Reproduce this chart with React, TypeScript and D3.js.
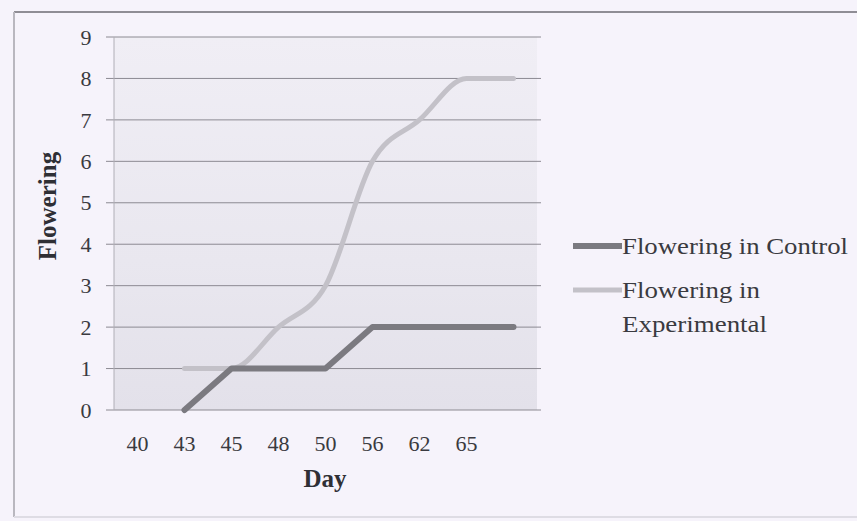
import React from "react";
import * as d3 from "d3";

const categories = ["40", "43", "45", "48", "50", "56", "62", "65", ""];
const control: (number | null)[] = [null, 0, 1, 1, 1, 2, 2, 2, 2];
const experimental: (number | null)[] = [null, 1, 1, 2, 3, 6, 7, 8, 8];
const yTicks = [0, 1, 2, 3, 4, 5, 6, 7, 8, 9];
const seriesNames = ["Flowering in Control", "Flowering in Experimental"];

const W = 857;
const H = 521;
const plot = { left: 114, right: 537, top: 37, bottom: 410 };

export default function App() {
  const x = d3
    .scaleBand<string>()
    .domain(categories.map((c, i) => String(i)))
    .range([plot.left, plot.right]);
  const xc = (i: number) => (x(String(i)) as number) + x.bandwidth() / 2;
  const y = d3.scaleLinear().domain([0, 9]).range([plot.bottom, plot.top]);

  const lineLin = d3
    .line<number | null>()
    .defined((d) => d !== null)
    .x((_, i) => xc(i))
    .y((d) => y(d as number));
  const lineSmooth = d3
    .line<number | null>()
    .defined((d) => d !== null)
    .x((_, i) => xc(i))
    .y((d) => y(d as number))
    .curve(d3.curveMonotoneX);

  const font = "'Liberation Serif', 'Times New Roman', serif";
  const textCol = "#3a3a40";

  return (
    <svg width={W} height={H} style={{ position: "absolute", left: 0, top: 0 }}>
      <defs>
        <linearGradient id="pg" x1="0" y1="0" x2="0" y2="1">
          <stop offset="0" stopColor="#f0eef5" />
          <stop offset="0.6" stopColor="#e9e7ef" />
          <stop offset="1" stopColor="#e3e1ea" />
        </linearGradient>
      </defs>
      <rect x={0} y={0} width={W} height={H} fill="#f6f3fb" />
      {/* outer frame */}
      <line x1={14} y1={12} x2={W} y2={12} stroke="#8f8d95" strokeWidth={2} />
      <line x1={14} y1={12} x2={14} y2={517} stroke="#b9b7bf" strokeWidth={2} />
      <line x1={14} y1={517} x2={W} y2={517} stroke="#dedce4" strokeWidth={2} />
      {/* plot area */}
      <rect
        x={plot.left}
        y={plot.top}
        width={plot.right - plot.left}
        height={plot.bottom - plot.top}
        fill="url(#pg)"
      />
      {yTicks.map((t) => (
        <line
          key={t}
          x1={plot.left - 8}
          x2={plot.right + 4}
          y1={y(t)}
          y2={y(t)}
          stroke="#8c8a92"
          strokeWidth={1}
        />
      ))}
      <line x1={plot.left} x2={plot.left} y1={plot.top} y2={plot.bottom} stroke="#b0aeb6" strokeWidth={1} />
      {yTicks.map((t) => (
        <text
          key={t}
          x={86}
          y={y(t)}
          dy="0.35em"
          textAnchor="middle"
          fontFamily={font}
          fontSize={22}
          fill={textCol}
        >
          {t}
        </text>
      ))}
      {categories.map((c, i) => (
        <text
          key={i}
          x={xc(i)}
          y={443}
          dy="0.35em"
          textAnchor="middle"
          fontFamily={font}
          fontSize={22}
          fill={textCol}
        >
          {c}
        </text>
      ))}
      <text
        x={325}
        y={478}
        dy="0.35em"
        textAnchor="middle"
        fontFamily={font}
        fontSize={25}
        fontWeight="bold"
        fill="#2f2f35"
      >
        Day
      </text>
      <text
        transform={`translate(47,206) rotate(-90)`}
        dy="0.35em"
        textAnchor="middle"
        fontFamily={font}
        fontSize={25}
        fontWeight="bold"
        fill="#2f2f35"
      >
        Flowering
      </text>
      <path
        d={lineSmooth(experimental) || ""}
        fill="none"
        stroke="#c3c1c8"
        strokeWidth={5}
        strokeLinecap="round"
      />
      <path
        d={lineLin(control) || ""}
        fill="none"
        stroke="#7b7a80"
        strokeWidth={6}
        strokeLinejoin="round"
        strokeLinecap="round"
      />
      {/* legend */}
      <line x1={573} x2={622} y1={246} y2={246} stroke="#7b7a80" strokeWidth={6} />
      <text
        x={622}
        y={246}
        dy="0.35em"
        fontFamily={font}
        fontSize={24}
        fill={textCol}
        textLength={226}
        lengthAdjust="spacingAndGlyphs"
      >
        {seriesNames[0]}
      </text>
      <line x1={573} x2={622} y1={290} y2={290} stroke="#c3c1c8" strokeWidth={5} />
      <text
        x={622}
        y={290}
        dy="0.35em"
        fontFamily={font}
        fontSize={24}
        fill={textCol}
        textLength={138}
        lengthAdjust="spacingAndGlyphs"
      >
        Flowering in
      </text>
      <text
        x={622}
        y={324}
        dy="0.35em"
        fontFamily={font}
        fontSize={24}
        fill={textCol}
        textLength={145}
        lengthAdjust="spacingAndGlyphs"
      >
        Experimental
      </text>
    </svg>
  );
}
